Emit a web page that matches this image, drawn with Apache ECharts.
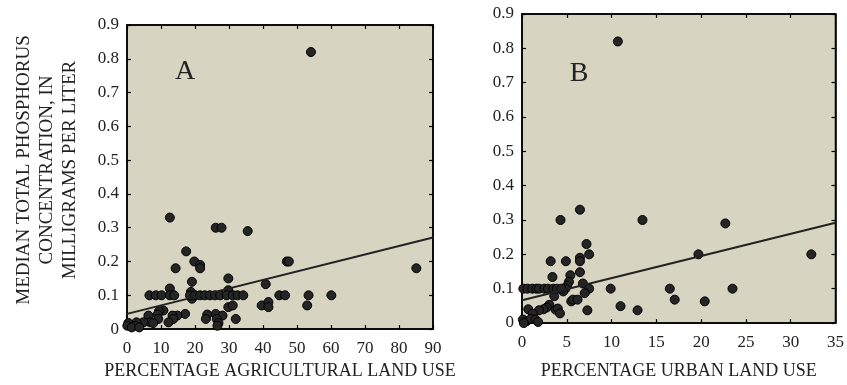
<!DOCTYPE html>
<html><head><meta charset="utf-8">
<script src="https://cdn.jsdelivr.net/npm/echarts@6/dist/echarts.min.js"></script>
<style>html,body{margin:0;padding:0;background:#fff}#c{width:847px;height:385px}</style>
</head><body><div id="c"></div>
<script>
// Panel A: percentage agricultural land use vs median total phosphorus (mg/L)
const agPct = [12.6,26.1,27.8,35.5,17.4,19.8,21.5,21.5,14.3,29.8,19.1,12.6,18.8,29.8,19.1,
  6.6,8.5,10.2,12.6,13.9,18.5,20,21.5,22.9,24.4,25.9,27.4,29.3,31.1,32.5,34.2,
  40.8,29.8,31.1,39.6,41.6,41.6,32,26.1,28.1,23.6,23.2,26.4,26.9,26.6,17.1,14.8,13.4,13.6,12.2,10.7,9.4,9,9.2,6.3,6.8,7.7,4.8,2.8,2.4,0.4,0.1,1.4,3.6,
  47,47.6,44.8,46.5,53.4,60.1,53,85.1,54.1];
const agTP = [0.33,0.30,0.30,0.29,0.23,0.20,0.19,0.18,0.18,0.15,0.14,0.12,0.11,0.115,0.09,
  0.1,0.1,0.1,0.1,0.1,0.1,0.1,0.1,0.1,0.1,0.1,0.1,0.1,0.1,0.1,0.1,
  0.133,0.065,0.07,0.07,0.08,0.065,0.03,0.045,0.04,0.043,0.03,0.03,0.018,0.01,0.045,0.04,0.04,0.03,0.02,0.055,0.053,0.043,0.03,0.04,0.02,0.018,0.02,0.02,0.01,0.018,0.01,0.005,0.005,
  0.2,0.2,0.1,0.1,0.1,0.1,0.07,0.18,0.82];
const agFitX = [0, 90];
const agFitY = [0.045, 0.271];

// Panel B: percentage urban land use vs median total phosphorus (mg/L)
const urbPct = [6.47,4.3,7.2,7.5,6.47,6.47,4.9,3.2,6.47,5.4,3.4,5.24,5.05,6.8,4.85,4.6,3.6,7.5,7.0,
  0.15,0.6,1.15,1.6,1.9,2.5,2.9,3.5,3.9,4.4,
  9.9,5.5,5.7,6.2,7.3,11.0,12.9,3.05,2.75,2.4,1.9,3.75,4.0,4.24,0.7,1.2,0.1,0.5,1.0,1.5,1.8,0.2,
  13.45,22.7,19.7,32.3,16.5,23.5,17.05,20.4,10.7];
const urbTP = [0.33,0.30,0.23,0.20,0.19,0.18,0.18,0.18,0.148,0.139,0.134,0.12,0.109,0.115,0.1,0.092,0.078,0.1,0.087,
  0.1,0.1,0.1,0.1,0.1,0.1,0.1,0.1,0.1,0.1,
  0.1,0.063,0.068,0.068,0.037,0.049,0.037,0.053,0.045,0.04,0.037,0.039,0.042,0.028,0.04,0.027,0.01,0.005,0.012,0.01,0.003,0.0,
  0.30,0.29,0.2,0.2,0.1,0.1,0.068,0.063,0.82];
const urbFitX = [0, 35];
const urbFitY = [0.066, 0.292];

const yTicks = ['0','0.1','0.2','0.3','0.4','0.5','0.6','0.7','0.8','0.9'];

const zip = (a, b) => a.map((v, i) => [v, b[i]]);
const serif = 'Liberation Serif';
const txt = '#222';

function xAx(grid, max, interval, pos, labels, name, gap) {
  return {
    gridIndex: grid, type: 'value', min: 0, max: max, interval: interval, position: pos,
    axisLine: { show: true, onZero: false, lineStyle: { color: '#000', width: 1.5 } },
    axisTick: { show: true, inside: true, length: 4, lineStyle: { color: '#000', width: 1.2 } },
    axisLabel: { show: labels, margin: 11, fontFamily: serif, fontSize: 17, color: txt },
    splitLine: { show: false },
    name: name, nameLocation: 'middle', nameGap: gap,
    nameTextStyle: { fontFamily: serif, fontSize: 18, color: txt }
  };
}
function yAx(grid, pos, labels) {
  return {
    gridIndex: grid, type: 'value', min: 0, max: 0.9, interval: 0.1, position: pos,
    axisLine: { show: true, onZero: false, lineStyle: { color: '#000', width: 1.5 } },
    axisTick: { show: true, inside: true, length: 4, lineStyle: { color: '#000', width: 1.2 } },
    axisLabel: { show: labels, margin: 8, fontFamily: serif, fontSize: 17, color: txt,
      formatter: v => yTicks[Math.round(v * 10)] },
    splitLine: { show: false }
  };
}

const chart = echarts.init(document.getElementById('c'), null, { renderer: 'canvas' });
const dot = { color: '#252525', borderColor: '#000', borderWidth: 1, opacity: 1 };
chart.setOption({
  animation: false,
  backgroundColor: '#fff',
  grid: [
    { left: 127, top: 25, width: 306, height: 307, show: true, backgroundColor: '#d7d4c2', borderColor: '#000', borderWidth: 1.5 },
    { left: 522, top: 14, width: 314, height: 313, show: true, backgroundColor: '#d7d4c2', borderColor: '#000', borderWidth: 1.5 }
  ],
  xAxis: [
    xAx(0, 90, 10, 'bottom', true, 'PERCENTAGE AGRICULTURAL LAND USE', 31),
    xAx(0, 90, 10, 'top', false, '', 0),
    xAx(1, 35, 5, 'bottom', true, 'PERCENTAGE URBAN LAND USE', 39),
    xAx(1, 35, 5, 'top', false, '', 0)
  ],
  yAxis: [
    yAx(0, 'left', true), yAx(0, 'right', false),
    yAx(1, 'left', true), yAx(1, 'right', false)
  ],
  series: [
    { type: 'scatter', xAxisIndex: 0, yAxisIndex: 0, data: zip(agPct, agTP), symbol: 'circle', symbolSize: 9, itemStyle: dot, clip: false },
    { type: 'line', xAxisIndex: 0, yAxisIndex: 0, data: zip(agFitX, agFitY), showSymbol: false, symbol: 'none', lineStyle: { color: '#222', width: 2 } },
    { type: 'scatter', xAxisIndex: 2, yAxisIndex: 2, data: zip(urbPct, urbTP), symbol: 'circle', symbolSize: 9, itemStyle: dot, clip: false },
    { type: 'line', xAxisIndex: 2, yAxisIndex: 2, data: zip(urbFitX, urbFitY), showSymbol: false, symbol: 'none', lineStyle: { color: '#222', width: 2 } }
  ],
  graphic: [
    { type: 'text', x: 47, y: 170, rotation: Math.PI / 2,
      style: { text: 'MEDIAN TOTAL PHOSPHORUS\nCONCENTRATION, IN\nMILLIGRAMS PER LITER', align: 'center', verticalAlign: 'middle',
        fontFamily: serif, fontSize: 19, lineHeight: 23, fill: txt } },
    { type: 'text', x: 185, y: 72, style: { text: 'A', align: 'center', verticalAlign: 'middle', fontFamily: serif, fontSize: 28, fill: txt } },
    { type: 'text', x: 579, y: 74, style: { text: 'B', align: 'center', verticalAlign: 'middle', fontFamily: serif, fontSize: 28, fill: txt } }
  ]
});
</script></body></html>
